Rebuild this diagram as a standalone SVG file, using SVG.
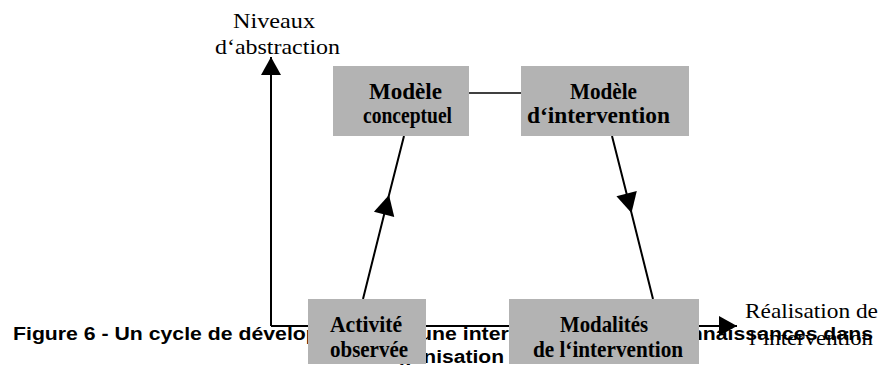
<svg xmlns="http://www.w3.org/2000/svg" width="881" height="365" viewBox="0 0 881 365">
<defs>
<style>
.box{fill:#b3b3b3;stroke:none}
.ln{stroke:#000;stroke-width:2;fill:none}
.thin{stroke:#000;stroke-width:1.5;fill:none}
.bt{font-family:"Liberation Serif","Times New Roman",serif;font-weight:bold;font-size:24px;fill:#000}
.st{font-family:"Liberation Serif","Times New Roman",serif;font-size:21px;fill:#000}
.cap{font-family:"Liberation Sans",Arial,sans-serif;font-weight:bold;font-size:18px;fill:#000}
</style>
<marker id="ah" markerUnits="userSpaceOnUse" markerWidth="22" markerHeight="22" viewBox="-20 -11 22 22" refX="0" refY="0" orient="auto">
<path d="M0,0 L-18,-10 L-18,10 Z" fill="#000"/>
</marker>
<marker id="am" markerUnits="userSpaceOnUse" markerWidth="24" markerHeight="24" viewBox="-22 -12 24 24" refX="0" refY="0" orient="auto">
<path d="M0,0 L-20,-10.5 L-20,10.5 Z" fill="#000"/>
</marker>
</defs>
<g id="caption">
<text class="cap" x="13" y="340" textLength="602" lengthAdjust="spacingAndGlyphs">Figure 6 - Un cycle de développement d’une intervention de</text>
<text class="cap" x="665" y="340" textLength="208" lengthAdjust="spacingAndGlyphs">connaissances dans</text>
<text class="cap" x="366" y="363" textLength="138" lengthAdjust="spacingAndGlyphs">l’organisation</text>
</g>
<g id="connectors">
<path class="ln" d="M271,326 L271,57" marker-end="url(#ah)"/>
<path class="ln" d="M271,326 L737,326" marker-end="url(#ah)"/>
<path class="ln" d="M363,299 L389,195 L404,136" marker-mid="url(#am)"/>
<path class="ln" d="M612,136 L631.5,213 L653,299" marker-mid="url(#am)"/>
<path class="thin" d="M469,93 L521,93"/>
</g>
<g id="axis-y-label">
<text class="st" x="233" y="28" textLength="82" lengthAdjust="spacingAndGlyphs">Niveaux</text>
<text class="st" x="215" y="54" textLength="125" lengthAdjust="spacingAndGlyphs">d‘abstraction</text>
</g>
<g id="axis-x-label">
<text class="st" x="745" y="318" textLength="133" lengthAdjust="spacingAndGlyphs">Réalisation de</text>
<text class="st" x="749" y="345" textLength="124" lengthAdjust="spacingAndGlyphs">l‘intervention</text>
</g>
<g id="modele-conceptuel">
<rect class="box" x="333" y="66" width="136" height="70"/>
<text class="bt" x="369" y="99" textLength="73" lengthAdjust="spacingAndGlyphs">Modèle</text>
<text class="bt" x="363" y="123" textLength="89" lengthAdjust="spacingAndGlyphs">conceptuel</text>
</g>
<g id="modele-intervention">
<rect class="box" x="521" y="66" width="168" height="70"/>
<text class="bt" x="570" y="99" textLength="67" lengthAdjust="spacingAndGlyphs">Modèle</text>
<text class="bt" x="527" y="123" textLength="143" lengthAdjust="spacingAndGlyphs">d‘intervention</text>
</g>
<g id="activite-observee">
<rect class="box" x="308" y="299" width="118" height="65"/>
<text class="bt" x="330" y="332" textLength="72" lengthAdjust="spacingAndGlyphs">Activité</text>
<text class="bt" x="330" y="357" textLength="78" lengthAdjust="spacingAndGlyphs">observée</text>
</g>
<g id="modalites-intervention">
<rect class="box" x="509" y="299" width="190" height="65"/>
<text class="bt" x="560" y="332" textLength="88" lengthAdjust="spacingAndGlyphs">Modalités</text>
<text class="bt" x="533" y="357" textLength="150" lengthAdjust="spacingAndGlyphs">de l‘intervention</text>
</g>
</svg>
